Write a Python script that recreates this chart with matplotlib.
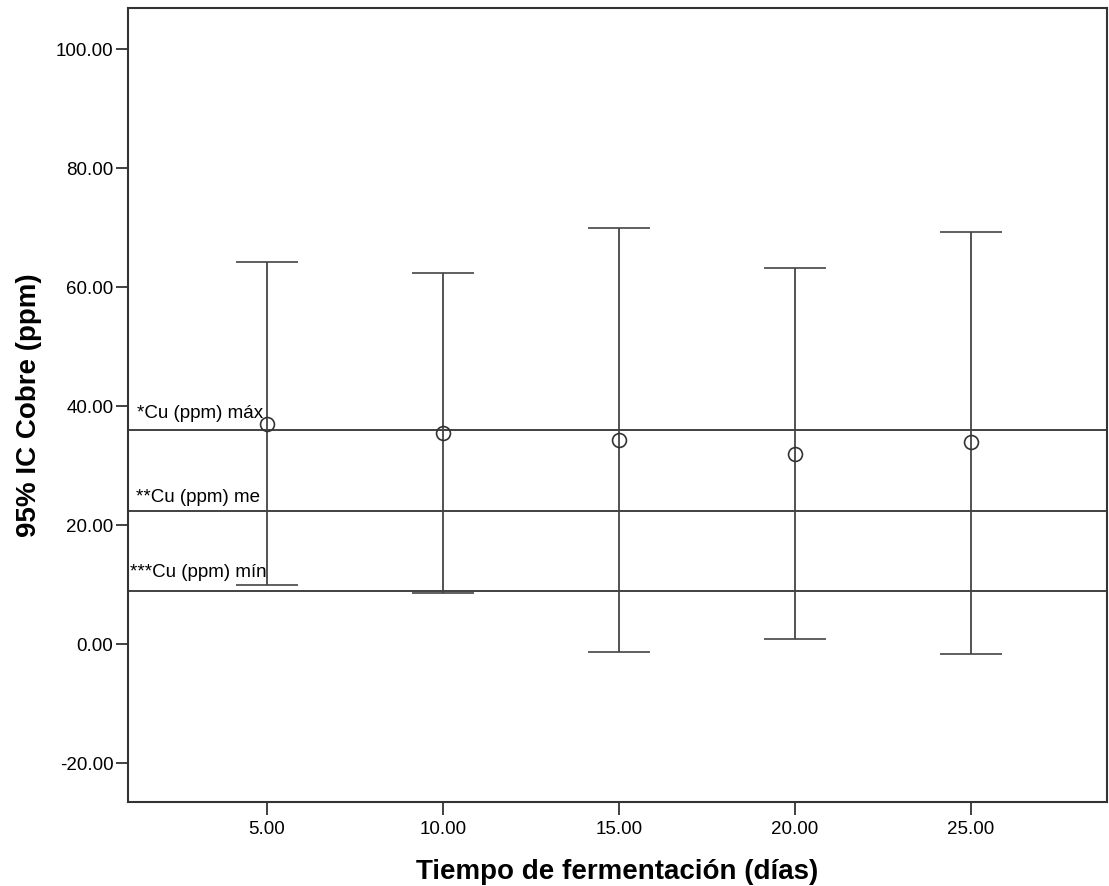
import matplotlib
matplotlib.use("Agg")
import matplotlib.pyplot as plt

plt.rcParams['font.family'] = ['Liberation Sans', 'DejaVu Sans']

dias = [5, 10, 15, 20, 25]
media = [37.0, 35.5, 34.3, 31.9, 33.9]
ic_sup = [64.2, 62.4, 69.9, 63.2, 69.2]
ic_inf = [9.9, 8.6, -1.3, 0.8, -1.7]

ref_valores = [36.0, 22.4, 8.9]
ref_etiquetas = ["*Cu (ppm) máx", "**Cu (ppm) me", "***Cu (ppm) mín"]
ref_x_texto = [1.31, 1.28, 1.11]
ref_y_texto = [38.0, 23.8, 11.2]

yticks = [-20, 0, 20, 40, 60, 80, 100]

fig = plt.figure(figsize=(11.09, 8.86), dpi=100)
ax = fig.add_axes([0.1154, 0.0948, 0.8826, 0.8962])

err_low = [m - l for m, l in zip(media, ic_inf)]
err_high = [u - m for m, u in zip(media, ic_sup)]
ax.errorbar(dias, media, yerr=[err_low, err_high], fmt='o', mfc='none',
            mec='#333333', ms=10, mew=1.2, ecolor='#444444', elinewidth=1.3,
            capsize=22, capthick=1.3, zorder=3)

for v, lab, xt, yt in zip(ref_valores, ref_etiquetas, ref_x_texto, ref_y_texto):
    ax.axhline(v, color='#333333', lw=1.3, zorder=2)
    ax.text(xt, yt, lab, fontsize=13.5, color='black', va='baseline', ha='left')

ax.set_xlim(1.05, 28.86)
ax.set_ylim(-26.55, 106.9)
ax.set_xticks(dias)
ax.set_xticklabels([f"{d:.2f}" for d in dias])
ax.set_yticks(yticks)
ax.set_yticklabels([f"{t:.2f}" for t in yticks])
ax.tick_params(axis='both', labelsize=13.5, length=9, width=1.3, color='#333333',
               direction='out')
ax.tick_params(axis='x', pad=4.5)
ax.tick_params(axis='y', pad=1.5)
for s in ax.spines.values():
    s.set_linewidth(1.5)
    s.set_color('#333333')

ax.set_xlabel("Tiempo de fermentación (días)", fontsize=20, fontweight='bold', labelpad=15)
ax.set_ylabel("95% IC Cobre (ppm)", fontsize=20, fontweight='bold', labelpad=10)

fig.savefig("out.png", dpi=100)
